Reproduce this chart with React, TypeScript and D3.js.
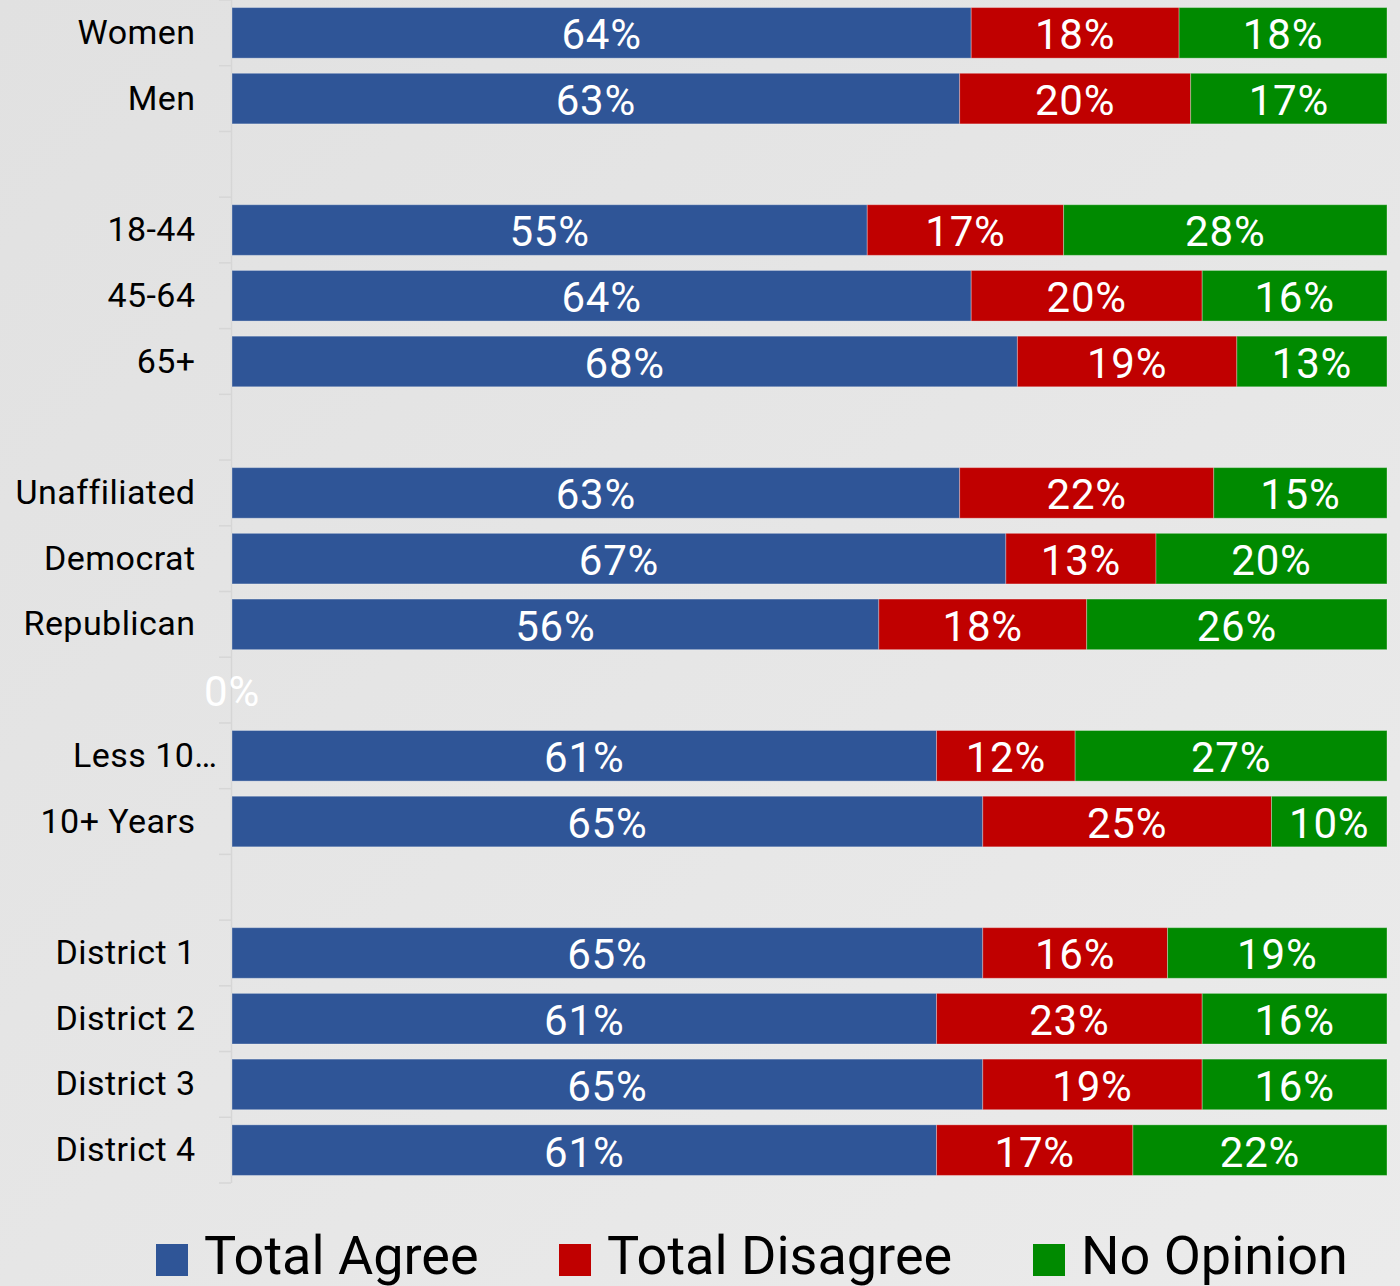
import React from "react";
import * as d3 from "d3";

const categories = ["Women", "Men", "", "18-44", "45-64", "65+", "", "Unaffiliated", "Democrat", "Republican", "", "Less 10…", "10+ Years", "", "District 1", "District 2", "District 3", "District 4"];
const totalAgree: (number | null)[] = [64, 63, null, 55, 64, 68, null, 63, 67, 56, 0, 61, 65, null, 65, 61, 65, 61];
const totalDisagree: (number | null)[] = [18, 20, null, 17, 20, 19, null, 22, 13, 18, null, 12, 25, null, 16, 23, 19, 17];
const noOpinion: (number | null)[] = [18, 17, null, 28, 16, 13, null, 15, 20, 26, null, 27, 10, null, 19, 16, 16, 22];
const seriesNames = ["Total Agree", "Total Disagree", "No Opinion"];
const seriesColors = ["#2f5597", "#c00000", "#008a00"];

const W = 1400;
const H = 1286;
const FONT = "Roboto, 'Noto Sans', sans-serif";

export default function App() {
  const series = [totalAgree, totalDisagree, noOpinion];
  const keys = categories.map((_, i) => String(i));
  const y = d3.scaleBand<string>().domain(keys).range([0, 1183]).paddingInner(0.23).paddingOuter(0.115);
  const yStep = d3.scaleBand<string>().domain(keys).range([0, 1183]);
  const x = d3.scaleLinear().domain([0, 100]).range([232, 1387]);

  const segs: any[] = [];
  categories.forEach((c, i) => {
    let acc = 0;
    series.forEach((s, si) => {
      const v = s[i];
      if (v === null || v === undefined) return;
      segs.push({ i, si, x0: acc, x1: acc + v, v });
      acc += v;
    });
  });

  const boundaries = d3.range(categories.length + 1).map((k) => k * yStep.step());
  const legendX = [156, 559, 1033];

  return (
    <svg width={W} height={H} style={{ position: "absolute", left: 0, top: 0, display: "block" }} fontFamily={FONT}>
      <defs>
        <linearGradient id="bg" x1="0" y1="0" x2="1" y2="1">
          <stop offset="0" stopColor="#e1e1e1" />
          <stop offset="1" stopColor="#ebebeb" />
        </linearGradient>
      </defs>
      <rect x={0} y={0} width={W} height={H} fill="url(#bg)" />
      <line x1={231.5} x2={231.5} y1={0} y2={1183} stroke="#d6d6d6" strokeWidth={1.5} />
      {boundaries.map((b, k) => (
        <line key={k} x1={219} x2={231} y1={b} y2={b} stroke="#d6d6d6" strokeWidth={1.5} />
      ))}
      {categories.map((c, i) => (
        <text
          key={i}
          x={c.endsWith("…") ? 217.5 : 195.5}
          y={(y(String(i)) as number) + y.bandwidth() / 2 + 0.355 * 34 - 1}
          textAnchor="end"
          fontSize={34}
          letterSpacing={0.45}
          fill="#000"
        >
          {c}
        </text>
      ))}
      {segs.map((s, k) => (
        <rect key={k} x={x(s.x0)} y={y(String(s.i))} width={x(s.x1) - x(s.x0)} height={y.bandwidth()} fill={seriesColors[s.si]} stroke="rgba(255,255,255,0.3)" strokeWidth={1} />
      ))}
      {segs.map((s, k) => (
        <text
          key={k}
          x={(x(s.x0) + x(s.x1)) / 2}
          y={(y(String(s.i)) as number) + y.bandwidth() / 2 + 0.355 * 42 + 1.5}
          textAnchor="middle"
          fontSize={42}
          letterSpacing={0.8}
          fill="#fff"
        >
          {s.v + "%"}
        </text>
      ))}
      {seriesNames.map((n, k) => (
        <g key={n}>
          <rect x={legendX[k]} y={1244} width={32} height={32} fill={seriesColors[k]} />
          <text x={legendX[k] + 48} y={1274} fontSize={54} fill="#000">
            {n}
          </text>
        </g>
      ))}
    </svg>
  );
}
